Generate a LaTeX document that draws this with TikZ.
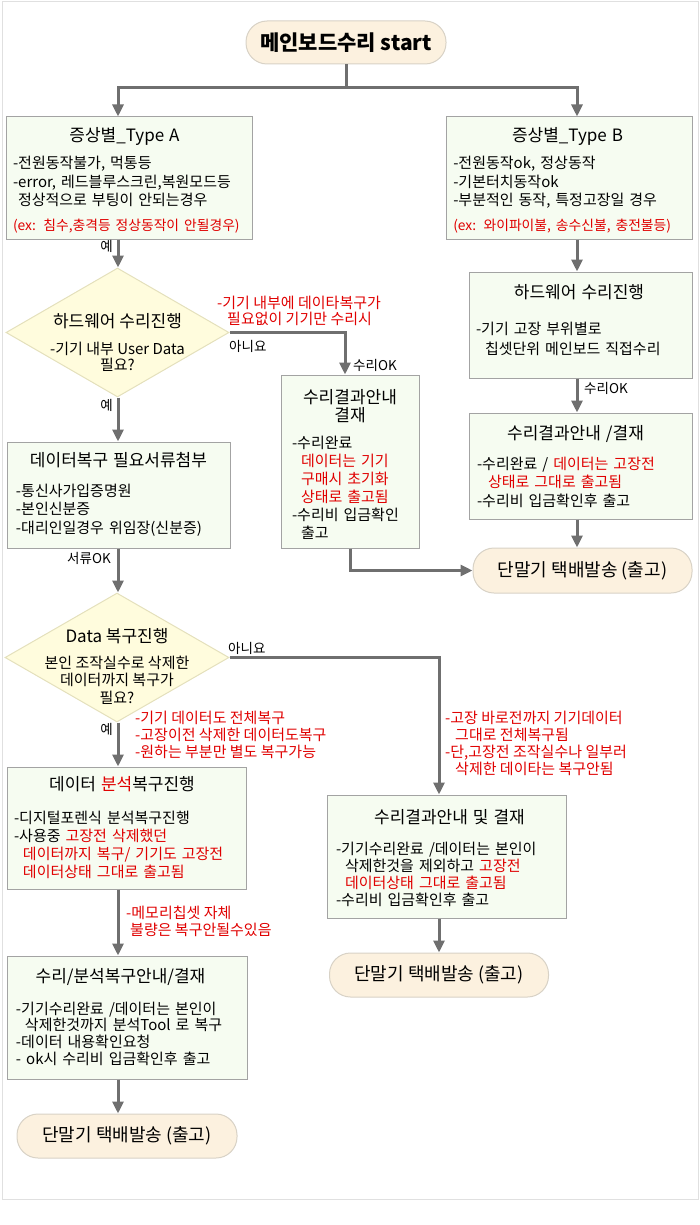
\documentclass[tikz,border=0pt]{standalone}
\usepackage{fontspec}
\setmainfont{Noto Sans CJK KR}
\usepackage{xcolor}
\usetikzlibrary{positioning,calc}
\usetikzlibrary{shapes.geometric,arrows.meta}

\definecolor{boxfill}{HTML}{F6FCF1}
\definecolor{boxline}{HTML}{A3A3A3}
\definecolor{askfill}{HTML}{FFFCDD}
\definecolor{askline}{HTML}{E4E0BC}
\definecolor{endfill}{HTML}{FCF1DF}
\definecolor{endline}{HTML}{D8D2C6}
\definecolor{flowgray}{HTML}{6F6F6F}
\definecolor{notered}{HTML}{E00000}
\definecolor{framegray}{HTML}{E0E0E0}

\newcommand{\bodyf}{\fontsize{15}{18.5}\selectfont}
\newcommand{\headf}{\fontsize{17}{18}\selectfont}
\newcommand{\startf}{\fontsize{21}{23}\selectfont\bfseries}
\newcommand{\termf}{\fontsize{18}{20}\selectfont}
\newcommand{\tagf}{\fontsize{13.5}{15}\selectfont}
\newcommand{\notef}{\fontsize{15}{17}\selectfont}
\newcommand{\exf}{\fontsize{13.8}{18.5}\selectfont}
\newcommand{\redtxt}[1]{\textcolor{notered}{#1}}
\newcommand{\headline}[2][0pt]{\makebox[\linewidth]{\hspace*{#1}\headf #2}}
\newcommand{\subline}{\hspace*{9pt}}

\begin{document}
\begin{tikzpicture}[x=1pt,y=-1pt,
    box/.style={draw=boxline, fill=boxfill, line width=1pt, align=left, inner xsep=9pt, inner ysep=0pt, font=\bodyf},
    ask/.style={diamond, draw=askline, fill=askfill, line width=1pt, inner sep=0pt},
    term/.style={draw=endline, fill=endfill, line width=1pt, rounded corners=21pt, font=\termf},
    flow/.style={draw=flowgray, line width=3pt, -{Triangle[width=11pt,length=12pt]}},
    link/.style={draw=flowgray, line width=3pt},
    tag/.style={font=\tagf, inner sep=0pt},
    note/.style={font=\notef, text=notered, align=left, inner sep=0pt, anchor=north west}]
    \useasboundingbox (0,0) rectangle (700,1225);
    \draw[framegray, line width=1pt] (2,2) rectangle (698,1199);

    % columns of the connectors
    \coordinate (colA) at (118,0);
    \coordinate (colM) at (345,0);
    \coordinate (colC) at (439,0);
    \coordinate (colB) at (577,0);

    \node[term, minimum width=200pt, minimum height=43pt, font=\startf] (start) at (346,42.5) {메인보드수리 start};
    \coordinate (split) at ([yshift=-23pt]start.south);

    % two symptom types
    \node[box, text width=233pt, inner xsep=6.5pt, text height=24.8pt, text depth=97.2pt] (typeA) at (129.5,178) {\headline[-10pt]{증상별\_Type A}\\[8.7pt]
        -전원동작불가, 먹통등\\
        -error, 레드블루스크린,복원모드등\\
        \hspace*{5pt}정상적으로 부팅이 안되는경우\\[6pt]
        {\exf\redtxt{(ex: 침수,충격등 정상동작이 안될경우)}}};
    \node[box, text width=232.5pt, inner xsep=6.5pt, text height=24.8pt, text depth=97.2pt] (typeB) at (569.5,178) {\headline[-4pt]{증상별\_Type B}\\[8.7pt]
        -전원동작ok, 정상동작\\
        -기본터치동작ok\\
        -부분적인 동작, 특정고장일 경우\\[6pt]
        {\exf\redtxt{(ex: 와이파이불, 송수신불, 충전불등)}}};

    % hardware question
    \node[ask, minimum width=223pt, minimum height=129pt] (hwq) at (117.5,332.5) {};
    \node[font=\fontsize{15}{16.5}\selectfont, align=center, inner sep=0pt] (hwqtext) at ([yshift=-10pt]hwq.center) {{\headf 하드웨어 수리진행}\\[10pt]
        -기기 내부 User Data\\
        필요?};
    \node[note, font=\fontsize{15}{15.5}\selectfont] (hwnote) at (217,296) {-기기 내부에 데이타복구가\\
        \hspace*{10pt}필요없이 기기만 수리시};

    \node[box, text width=116pt, inner xsep=11pt, text height=28.8pt, text depth=144.2pt, font=\fontsize{15}{18}\selectfont] (fixA) at (350,461.5) {\headline{수리결과안내}\\
        \headline{결재}\\[8.2pt]
        -수리완료\\
        \subline\redtxt{데이터는 기기}\\
        \subline\redtxt{구매시 초기화}\\
        \subline\redtxt{상태로 출고됨}\\
        -수리비 입금확인\\
        \subline 출고};

    \node[box, text width=209pt, inner xsep=7pt, text height=26.8pt, text depth=79.2pt, font=\fontsize{15}{20}\selectfont] (hwB) at (580.5,325) {\headline[-3pt]{하드웨어 수리진행}\\[15.2pt]
        -기기 고장 부위별로\\
        \subline 칩셋단위 메인보드 직접수리};
    \node[box, text width=207pt, inner xsep=8pt, text height=26.8pt, text depth=79.2pt] (resB) at (580.5,466) {\headline[-10pt]{수리결과안내 /결재}\\[10.7pt]
        -수리완료 / \redtxt{데이터는 고장전}\\
        \hspace*{11pt}\redtxt{상태로 그대로 출고됨}\\
        -수리비 입금확인후 출고};
    \node[term, minimum width=219pt, minimum height=45pt] (termB) at (582.5,570.5) {단말기 택배발송 (출고)};

    \node[box, text width=205pt, text height=24.8pt, text depth=81.2pt] (docs) at (118.5,495) {\headline{데이터복구 필요서류첨부}\\[10.7pt]
        -통신사가입증명원\\
        -본인신분증\\
        -대리인일경우 위임장(신분증)};

    % data question
    \node[ask, minimum width=224pt, minimum height=129pt] (dataq) at (117,657.5) {};
    \node[font=\fontsize{15}{17.5}\selectfont, align=center, inner sep=0pt] (dataqtext) at ([yshift=-9pt]dataq.center) {{\headf Data 복구진행}\\[8pt]
        본인 조작실수로 삭제한\\
        데이터까지 복구가\\
        필요?};
    \node[note] (fullnote) at (135,711) {-기기 데이터도 전체복구\\
        -고장이전 삭제한 데이터도복구\\
        -원하는 부분만 별도 복구가능};
    \node[note] (partnote) at (445,711) {-고장 바로전까지 기기데이터\\
        \hspace*{10pt}그대로 전체복구됨\\
        -단,고장전 조작실수나 일부러\\
        \hspace*{10pt}삭제한 데이타는 복구안됨};

    \node[box, text width=225pt, inner xsep=7pt, text height=23.8pt, text depth=98.2pt, font=\fontsize{15}{18}\selectfont] (anal) at (126.5,828) {\headline[-9pt]{데이터 \redtxt{분석}복구진행}\\[14.2pt]
        -디지털포렌식 분석복구진행\\
        -사용중 \redtxt{고장전 삭제했던}\\
        \subline\redtxt{데이터까지 복구/ 기기도 고장전}\\
        \subline\redtxt{데이터상태 그대로 출고됨}};
    \node[box, text width=221pt, text height=28.8pt, text depth=94.2pt, font=\fontsize{15}{17.3}\selectfont] (resC) at (446.5,856.5) {\headline[6pt]{수리결과안내 및 결재}\\[12.9pt]
        -기기수리완료 /데이터는 본인이\\
        \subline 삭제한것을 제외하고 \redtxt{고장전}\\
        \subline\redtxt{데이터상태 그대로 출고됨}\\
        -수리비 입금확인후 출고};
    \node[term, minimum width=219pt, minimum height=44pt] (termC) at (439,975) {단말기 택배발송 (출고)};

    \node[note] (memonote) at (126,906) {-메모리칩셋 자체\\
        \hspace*{4pt}불량은 복구안될수있음};
    \node[box, text width=222pt, text height=26.8pt, text depth=96.2pt, font=\fontsize{15}{16.7}\selectfont] (resD) at (127,1017.5) {\headline[-13pt]{수리/분석복구안내/결재}\\[14.5pt]
        -기기수리완료 /데이터는 본인이\\
        \subline 삭제한것까지 분석Tool 로 복구\\
        -데이터 내용확인요청\\
        - ok시 수리비 입금확인후 출고};
    \node[term, minimum width=220pt, minimum height=44pt] (termD) at (127,1136) {단말기 택배발송 (출고)};

    % connectors
    \draw[link] (start.south) -- (split);
    \draw[flow] (split) -| (colA |- typeA.north);
    \draw[flow] (split) -| (colB |- typeB.north);
    \draw[flow] (colA |- typeA.south) -- (colA |- hwq.north);
    \draw[flow] (colB |- typeB.south) -- (colB |- hwB.north);
    \draw[flow] (hwq.east) -| (colM |- fixA.north);
    \draw[flow] (colB |- hwB.south) -- (colB |- resB.north);
    \draw[flow] (colB |- resB.south) -- (colB |- termB.north);
    \draw[flow] (fixA.south) |- (termB.west);
    \draw[flow] (colA |- hwq.south) -- (colA |- docs.north);
    \draw[flow] (colA |- docs.south) -- (colA |- dataq.north);
    \draw[flow] (dataq.east) -| (colC |- resC.north);
    \draw[flow] (colA |- dataq.south) -- (colA |- anal.north);
    \draw[flow] (colA |- anal.south) -- (colA |- resD.north);
    \draw[flow] (colA |- resD.south) -- (colA |- termD.north);
    \draw[flow] (colC |- resC.south) -- (colC |- termC.north);

    % connector labels
    \node[tag, anchor=east] (yesA) at (113,246) {예};
    \node[tag, anchor=west] (noA) at (229,346) {아니요};
    \node[tag, anchor=west] (okA) at (353,365) {수리OK};
    \node[tag, anchor=west] (okB) at (584,388) {수리OK};
    \node[tag, anchor=east] (yesB) at (113,405) {예};
    \node[tag, anchor=east] (docok) at (111,558) {서류OK};
    \node[tag, anchor=west] (noB) at (228,648) {아니요};
    \node[tag, anchor=east] (yesC) at (113,729) {예};
\end{tikzpicture}
\end{document}
